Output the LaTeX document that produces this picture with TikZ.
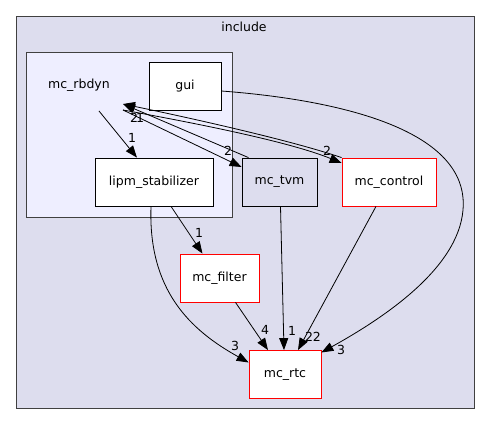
\documentclass[tikz,border=0pt]{standalone}
\usepackage{fontspec}
\setmainfont{DejaVu Sans}
\usetikzlibrary{arrows.meta}

\definecolor{incfill}{HTML}{DDDDEE}
\definecolor{rbfill}{HTML}{EEEEFF}
\definecolor{clusterline}{HTML}{404040}

\tikzset{
  dirbox/.style={draw=black, fill=white, line width=0.8pt, minimum height=48pt, inner sep=0pt},
  redbox/.style={dirbox, draw=red},
  dep/.style={-{Triangle[length=12pt,width=9pt]}, line width=0.8pt},
  lbl/.style={inner sep=0pt}
}

\begin{document}
\begin{tikzpicture}[x=1pt, y=-1pt, font=\fontsize{12.5}{14}\selectfont]
            \useasboundingbox (0,0) rectangle (491,425);

            % clusters
            \draw[fill=incfill, draw=clusterline, line width=0.8pt] (16,16) rectangle (474,408);
            \node (include) at (244,27) {include};
            \draw[fill=rbfill, draw=clusterline, line width=0.8pt] (26,52) rectangle (232,217);
            \node (rbdyn) at (79,85) {mc\_rbdyn};
            \coordinate (rbA) at (99,111);
            \coordinate (rbB) at (123,110);
            \coordinate (rbC) at (123,104);

            % directories
            \node[dirbox, minimum width=72pt] (gui) at (185,86) {gui};
            \node[dirbox, minimum width=118pt] (lipm) at (154,182) {lipm\_stabilizer};
            \node[dirbox, fill=incfill, minimum width=75pt] (tvm) at (279.5,182) {mc\_tvm};
            \node[redbox, minimum width=94pt] (control) at (389,182) {mc\_control};
            \node[redbox, minimum width=79pt] (filter) at (219.5,278) {mc\_filter};
            \node[redbox, draw=red, minimum width=72pt] (mcrtc) at (285,374.5) {mc\_rtc};

            % dependencies
            \draw[dep] (rbA) -- ([xshift=-17pt]lipm.north);
            \node[lbl] at (132,138) {1};
            \draw[dep] (rbB) -- ([yshift=15pt]tvm.west);
            \node[lbl] at (228,151) {2};
            \draw[dep] ([xshift=-31pt]tvm.north) -- (rbC);
            \node[lbl] at (134,118) {2};
            \draw[dep] (control.north west) .. controls (290,140) and (190,118) .. (rbC);
            \node[lbl] at (140,118) {1};
            \draw[dep] (rbB) .. controls (200,124) and (290,142) .. ([yshift=19pt]control.west);
            \node[lbl] at (327,151) {2};

            \draw[dep] ([yshift=-5pt]gui.east) .. controls (340,100) and (470,130) .. (463,210)
                .. controls (458,270) and (380,320) .. ([yshift=22pt]mcrtc.east);
            \node[lbl] at (341,350) {3};
            \draw[dep] ([xshift=-3pt]lipm.south) .. controls (148,290) and (190,330) .. ([yshift=12pt]mcrtc.west);
            \node[lbl] at (235,346) {3};
            \draw[dep] ([xshift=17pt]lipm.south) -- ([xshift=-17pt]filter.north);
            \node[lbl] at (199,233) {1};
            \draw[dep] ([xshift=16pt]filter.south) -- ([xshift=-17pt]mcrtc.north);
            \node[lbl] at (265,330) {4};
            \draw[dep] ([xshift=1pt]tvm.south) -- ([xshift=-1pt]mcrtc.north);
            \node[lbl] at (292,331) {1};
            \draw[dep] ([xshift=-13pt]control.south) -- ([xshift=13pt]mcrtc.north);
            \node[lbl] at (313,337) {22};
        \end{tikzpicture}
\end{document}
